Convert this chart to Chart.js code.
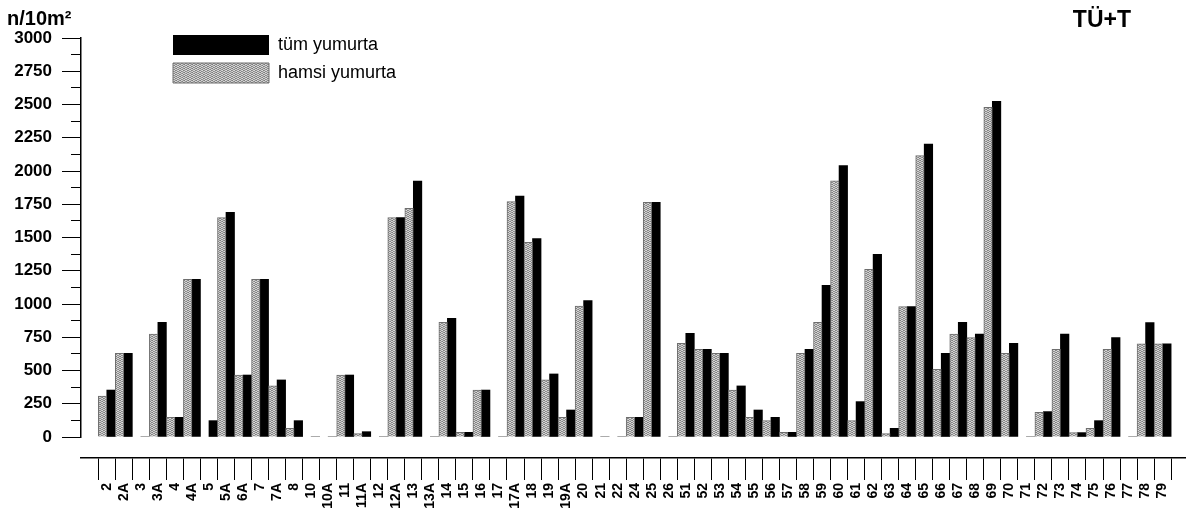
<!DOCTYPE html>
<html>
<head>
<meta charset="utf-8">
<script src="https://cdn.jsdelivr.net/npm/chart.js@4/dist/chart.umd.min.js"></script>
<style>
  html, body { margin: 0; padding: 0; background: #fff; }
  #wrap { width: 1193px; height: 519px; }
</style>
</head>
<body>
<div id="wrap"><canvas id="c" width="1193" height="519"></canvas></div>
<script>
// Sampling stations, left to right
const stations = ['2','2A','3','3A','4','4A','5','5A','6A','7','7A','8','10','10A','11','11A','12','12A','13','13A',
  '14','15','16','17','17A','18','19','19A','20','21','22','24','25','26','51','52','53','54','55','56',
  '57','58','59','60','61','62','63','64','65','66','67','68','69','70','71','72','73','74','75','76',
  '77','78','79'];

// Anchovy eggs (n/10m²)
const hamsiYumurta = [308,629,0,774,148,1186,0,1649,466,1186,384,65,0,0,466,25,0,1649,1720,0,
  862,35,353,0,1770,1464,429,148,985,0,0,148,1765,0,704,659,629,353,148,123,
  35,629,862,1927,123,1261,25,980,2116,509,774,747,2479,629,0,185,659,33,65,659,
  0,700,700];

// All eggs (n/10m²)
const tumYumurta = [353,629,0,862,148,1186,123,1690,466,1186,429,123,0,0,466,40,0,1649,1925,0,
  892,35,353,0,1812,1491,474,203,1025,0,0,148,1765,0,780,659,629,384,203,148,
  35,659,1140,2040,266,1374,65,980,2203,629,862,774,2524,704,0,191,774,33,123,747,
  0,860,700];

// Labelled value ticks
const yTickValues = [0,250,500,750,1000,1250,1500,1750,2000,2250,2500,2750,3000];

const unitLabel = 'n/10m²';
const panelLabel = 'TÜ+T';

const FONT = '"Liberation Sans", Arial, Helvetica, sans-serif';

// Halftone-like grey fill for the anchovy bars
function stipplePattern() {
  const shades = [
    [0x7c, 0xd8, 0xc8, 0x90],
    [0xcc, 0x98, 0x84, 0xd4],
    [0x8c, 0xd0, 0xdc, 0x80],
    [0xd8, 0x88, 0x94, 0xc4]
  ];
  const c = document.createElement('canvas');
  c.width = 4; c.height = 4;
  const g = c.getContext('2d');
  for (let y = 0; y < 4; y++) {
    for (let x = 0; x < 4; x++) {
      const v = shades[y][x];
      g.fillStyle = `rgb(${v},${v},${v})`;
      g.fillRect(x, y, 1, 1);
    }
  }
  return g.createPattern(c, 'repeat');
}

const stationTicks = (scale) => { scale.ticks = stations.map((_, i) => ({ value: i })); };

// Vertical legend placed inside the plot, near its top-left corner
const legendPlacement = {
  id: 'legendPlacement',
  afterLayout(chart) {
    const lg = chart.legend;
    if (!lg) return;
    const a = chart.chartArea;
    lg.left = a.left + 84;
    lg.top = a.top - 11;
    lg.width = 320;
    lg.height = 90;
    lg.right = lg.left + lg.width;
    lg.bottom = lg.top + lg.height;
  }
};

// Unit caption above the value axis and panel caption at top right
const cornerLabels = {
  id: 'cornerLabels',
  afterDraw(chart) {
    const { ctx, chartArea: a } = chart;
    ctx.save();
    ctx.fillStyle = '#000';
    ctx.textBaseline = 'alphabetic';
    ctx.textAlign = 'left';
    ctx.font = 'bold 20px ' + FONT;
    ctx.fillText(unitLabel, 7, a.top - 13);
    ctx.textAlign = 'right';
    ctx.font = 'bold 23px ' + FONT;
    ctx.fillText(panelLabel, a.right - 54, a.top - 11);
    ctx.restore();
  }
};

const grey = stipplePattern();

new Chart(document.getElementById('c'), {
  type: 'bar',
  data: {
    datasets: [
      {
        label: 'hamsi yumurta',
        data: stations.map((s, i) => ({ x: i, y: hamsiYumurta[i] })),
        backgroundColor: grey,
        borderColor: '#6e6e6e',
        borderWidth: 1,
        xAxisID: 'x',
        yAxisID: 'y'
      },
      {
        label: 'tüm yumurta',
        data: stations.map((s, i) => ({ x: i, y: tumYumurta[i] })),
        backgroundColor: '#000',
        borderWidth: 0,
        xAxisID: 'x',
        yAxisID: 'y'
      }
    ]
  },
  options: {
    responsive: false,
    animation: false,
    devicePixelRatio: 1,
    layout: { padding: { top: 38, right: 8, bottom: 0, left: 0 } },
    datasets: { bar: { categoryPercentage: 1, barPercentage: 1 } },
    plugins: {
      legend: {
        position: 'chartArea',
        align: 'start',
        reverse: true,
        labels: {
          boxWidth: 96,
          boxHeight: 20,
          padding: 8,
          color: '#000',
          font: { family: FONT, size: 18 }
        }
      },
      tooltip: { enabled: false },
      title: { display: false }
    },
    scales: {
      // index axis of the bars; keeps a gap between the zero line and the station axis
      x: {
        type: 'linear',
        position: 'bottom',
        min: -1,
        max: 62.8,
        weight: 0,
        border: { display: false },
        grid: { display: false },
        ticks: { display: false },
        afterBuildTicks: stationTicks,
        afterFit: (s) => { s.height = 21; }
      },
      // station name axis
      stations: {
        type: 'linear',
        position: 'bottom',
        min: -1,
        max: 62.8,
        weight: 1,
        border: { display: true, color: '#000', width: 1.5 },
        grid: {
          display: true,
          drawOnChartArea: false,
          drawTicks: true,
          tickLength: 22,
          tickColor: '#000',
          tickWidth: 1
        },
        ticks: {
          autoSkip: false,
          maxRotation: 90,
          minRotation: 90,
          padding: 3,
          color: '#000',
          font: { family: FONT, size: 14, weight: 'bold' },
          callback: (v) => stations[v]
        },
        afterBuildTicks: stationTicks,
        afterFit: (s) => { s.height = 61; }
      },
      // value axis line with half-step tick marks
      y: {
        type: 'linear',
        position: 'left',
        min: 0,
        max: 3000,
        weight: 0,
        border: { display: true, color: '#000', width: 1.5 },
        grid: {
          drawOnChartArea: false,
          drawTicks: true,
          tickLength: 10,
          tickColor: '#000',
          tickWidth: 1
        },
        ticks: { display: false, stepSize: 125 },
        afterFit: (s) => { s.width = 10; }
      },
      // labelled value ticks
      yLabels: {
        type: 'linear',
        position: 'left',
        min: 0,
        max: 3000,
        weight: 1,
        border: { display: false },
        grid: {
          drawOnChartArea: false,
          drawTicks: true,
          tickLength: 9,
          tickColor: '#000',
          tickWidth: 1
        },
        ticks: {
          padding: 10,
          color: '#000',
          font: { family: FONT, size: 17, weight: 'bold' },
          callback: (v) => String(v)
        },
        afterBuildTicks: (s) => { s.ticks = yTickValues.map((v) => ({ value: v })); },
        afterFit: (s) => { s.width = 71; }
      }
    }
  },
  plugins: [legendPlacement, cornerLabels]
});
</script>
</body>
</html>
